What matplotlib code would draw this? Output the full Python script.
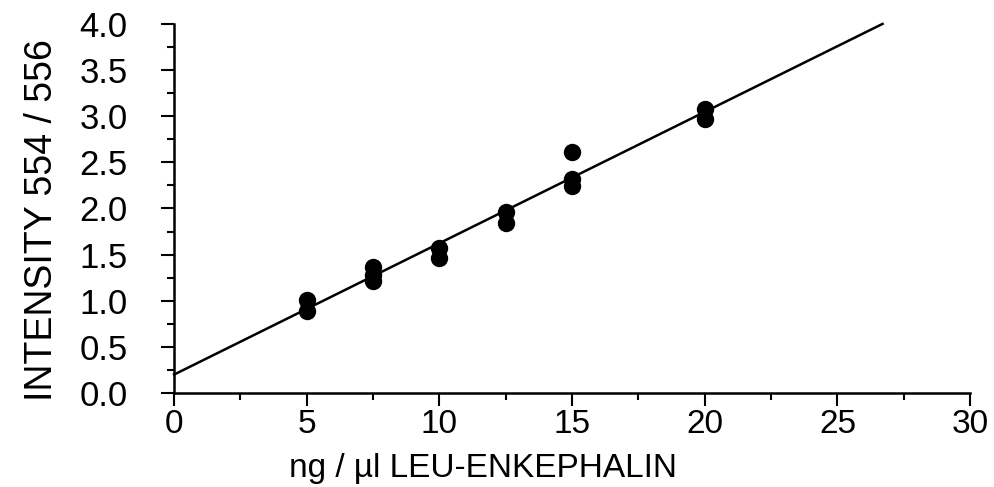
import matplotlib
matplotlib.use("Agg")
import matplotlib.pyplot as plt
from matplotlib.ticker import MultipleLocator
import numpy as np

# data
conc = [5, 5, 7.5, 7.5, 7.5, 10, 10, 12.5, 12.5, 15, 15, 15, 20, 20]
ratio = [1.01, 0.89, 1.37, 1.28, 1.21, 1.57, 1.46, 1.96, 1.84, 2.61, 2.32, 2.24, 3.08, 2.97]
fit_x = [0, 26.7]
fit_y = [0.20, 4.0]

xticks = [0, 5, 10, 15, 20, 25, 30]
yticks = [0.0, 0.5, 1.0, 1.5, 2.0, 2.5, 3.0, 3.5, 4.0]

plt.rcParams['font.family'] = ['Liberation Sans', 'DejaVu Sans']

fig = plt.figure(figsize=(9.95, 4.87), dpi=100)
ax = fig.add_axes([0.175, 0.193, 0.800, 0.758])

ax.plot(fit_x, fit_y, color='black', lw=1.8, clip_on=False)
ax.plot(conc, ratio, 'o', color='black', ms=11.5, clip_on=False)

ax.set_xlim(0, 30)
ax.set_ylim(0, 4.0)
ax.set_xticks(xticks)
ax.set_xticklabels([str(t) for t in xticks])
ax.set_yticks(yticks)
ax.set_yticklabels([f"{t:.1f}" for t in yticks])
ax.xaxis.set_minor_locator(MultipleLocator(2.5))
ax.yaxis.set_minor_locator(MultipleLocator(0.25))

for s in ['top', 'right']:
    ax.spines[s].set_visible(False)
for s in ['left', 'bottom']:
    ax.spines[s].set_linewidth(1.8)

ax.tick_params(axis='both', which='major', direction='out', length=9.5, width=1.5, colors='black')
ax.tick_params(axis='both', which='minor', direction='out', length=5, width=1.5)
ax.tick_params(axis='y', which='major', labelsize=25, pad=24)
ax.tick_params(axis='x', which='major', labelsize=24, pad=2)

fig.text(0.042, 0.548, "INTENSITY 554 / 556", rotation=90, fontsize=27,
         ha='center', va='center')
fig.text(0.485, 0.0205, "ng / µl LEU-ENKEPHALIN", fontsize=24,
         ha='center', va='baseline')

fig.savefig("out.png", dpi=100)
